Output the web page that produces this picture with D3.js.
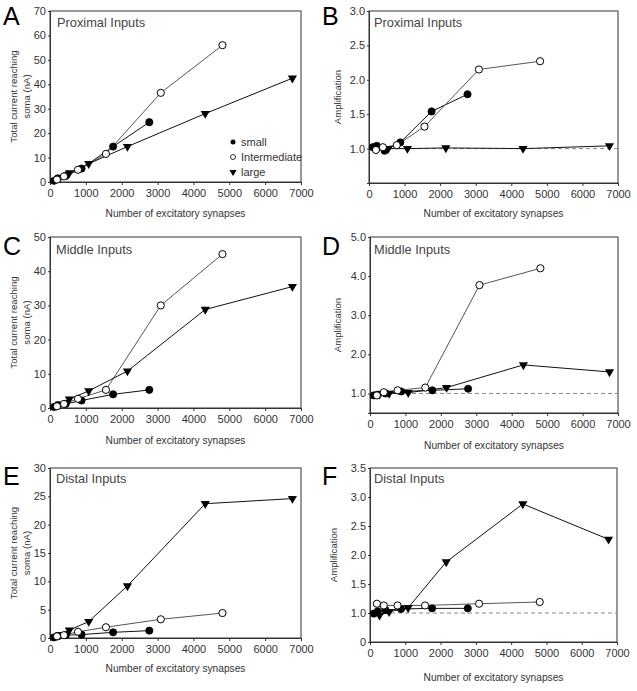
<!DOCTYPE html>
<html><head><meta charset="utf-8">
<script src="https://cdn.jsdelivr.net/npm/d3@7"></script>
<style>
body{margin:0;background:#fff;}
svg{font-family:"Liberation Sans",Arial,sans-serif;}
</style></head>
<body><svg id="c" width="637" height="691"></svg>
<script>
// Synapse counts (x values) for each series
const xSmall = [110, 220, 440, 880, 1760, 2770];
const xInter = [195, 390, 780, 1560, 3090, 4810];
const xLarge = [270, 540, 1080, 2160, 4330, 6760];

// Panel A: proximal, total current (nA)
const aSmall = [0.5, 1.5, 2.5, 5.5, 14.5, 24.5];
const aInter = [1.0, 2.3, 5.0, 11.5, 36.5, 56];
const aLarge = [1.8, 3.7, 7.5, 14.5, 28, 42.5];
// Panel B: proximal, amplification
const bSmall = [1.02, 1.04, 0.97, 1.09, 1.54, 1.79];
const bInter = [0.98, 1.02, 1.05, 1.32, 2.15, 2.27];
const bLarge = [1.02, 1.00, 1.00, 1.01, 1.00, 1.04];
// Panel C: middle, total current
const cSmall = [0.3, 0.8, 1.2, 2.2, 4.0, 5.3];
const cInter = [0.5, 1.2, 2.7, 5.3, 30, 45];
const cLarge = [1.1, 2.6, 5.0, 10.8, 28.8, 35.5];
// Panel D: middle, amplification
const dSmall = [0.95, 0.97, 1.00, 1.05, 1.08, 1.12];
const dInter = [0.95, 1.03, 1.08, 1.15, 3.77, 4.20];
const dLarge = [0.98, 1.00, 1.02, 1.15, 1.73, 1.55];
// Panel E: distal, total current
const eSmall = [0.1, 0.3, 0.5, 0.6, 1.0, 1.3];
const eInter = [0.3, 0.5, 1.1, 1.9, 3.3, 4.4];
const eLarge = [0.6, 1.4, 2.9, 9.2, 23.7, 24.6];
// Panel F: distal, amplification
const fSmall = [0.99, 1.03, 1.05, 1.07, 1.08, 1.08];
const fInter = [1.16, 1.13, 1.13, 1.13, 1.16, 1.19];
const fLarge = [0.96, 1.02, 1.09, 1.88, 2.88, 2.27];

const xTicks = [0, 1000, 2000, 3000, 4000, 5000, 6000, 7000];
const yTicksA = [0, 10, 20, 30, 40, 50, 60, 70];
const yTicksB = [1.0, 1.5, 2.0, 2.5, 3.0];
const yTicksC = [0, 10, 20, 30, 40, 50];
const yTicksD = [1.0, 2.0, 3.0, 4.0, 5.0];
const yTicksE = [0, 5, 10, 15, 20, 25, 30];
const yTicksF = [0.5, 1.0, 1.5, 2.0, 2.5, 3.0, 3.5];
const seriesNames = ["small", "Intermediate", "large"];
const xLabel = "Number of excitatory synapses";
const yLabelCurrent = ["Total current reaching", "soma (nA)"];
const yLabelAmp = ["Amplification"];

const panels = [
  {letter:"A", title:"Proximal Inputs", ys:[aSmall,aInter,aLarge], dom:[0,70], ticks:yTicksA, fmt:d=>d, ylab:yLabelCurrent, amp:false, legend:true,
   x0:50, x1:301, y0:11, y1:182, lx:3, ly:25, tx:57, ty:27, xl:217, ylx:[17,30]},
  {letter:"B", title:"Proximal Inputs", ys:[bSmall,bInter,bLarge], dom:[0.5,3.0], ticks:yTicksB, fmt:d3.format(".1f"), ylab:yLabelAmp, amp:true,
   x0:369, x1:618, y0:11, y1:183, lx:322, ly:25, tx:374, ty:27, xl:217, ylx:[341]},
  {letter:"C", title:"Middle Inputs", ys:[cSmall,cInter,cLarge], dom:[0,50], ticks:yTicksC, fmt:d=>d, ylab:yLabelCurrent, amp:false,
   x0:50, x1:301, y0:237, y1:408, lx:3, ly:255, tx:56, ty:254, xl:444, ylx:[17,30]},
  {letter:"D", title:"Middle Inputs", ys:[dSmall,dInter,dLarge], dom:[0.5,5.0], ticks:yTicksD, fmt:d3.format(".1f"), ylab:yLabelAmp, amp:true,
   x0:370, x1:618, y0:237, y1:413, lx:322, ly:255, tx:374, ty:254, xl:449, ylx:[341]},
  {letter:"E", title:"Distal Inputs", ys:[eSmall,eInter,eLarge], dom:[0,30], ticks:yTicksE, fmt:d=>d, ylab:yLabelCurrent, amp:false,
   x0:50, x1:301, y0:468, y1:638, lx:3, ly:485, tx:56, ty:483, xl:672, ylx:[17,30]},
  {letter:"F", title:"Distal Inputs", ys:[fSmall,fInter,fLarge], dom:[0.5,3.5], ticks:yTicksF, fmt:d=>d===0.5?"0":d3.format(".1f")(d), ylab:yLabelAmp, amp:true,
   x0:370, x1:617, y0:468, y1:642, lx:322, ly:485, tx:374, ty:483, xl:681, ylx:[337]}
];
const xsets = [xSmall, xInter, xLarge];
const lineCols = ["#111", "#555", "#111"];

const svg = d3.select("#c");
const tri = d3.symbol().type(d3.symbolTriangle).size(36);

function marker(g, type, x, y) {
  if (type === 0) g.append("circle").attr("cx",x).attr("cy",y).attr("r",3.6).attr("fill","#000").attr("stroke","#000").attr("stroke-width",0.8);
  else if (type === 1) g.append("circle").attr("cx",x).attr("cy",y).attr("r",3.6).attr("fill","#fff").attr("stroke","#000").attr("stroke-width",1);
  else g.append("path").attr("d",tri).attr("transform",`translate(${x},${y}) rotate(180)`).attr("fill","#000");
}

panels.forEach(p => {
  const g = svg.append("g");
  const x = d3.scaleLinear().domain([0,7000]).range([p.x0,p.x1]);
  const y = d3.scaleLinear().domain(p.dom).range([p.y1,p.y0]);

  // frame
  g.append("rect").attr("x",p.x0).attr("y",p.y0).attr("width",p.x1-p.x0).attr("height",p.y1-p.y0)
    .attr("fill","none").attr("stroke","#333").attr("stroke-width",1);

  const xa = g.append("g").attr("transform",`translate(0,${p.y1})`)
    .call(d3.axisBottom(x).tickValues(xTicks).tickSize(3).tickPadding(4).tickFormat(d=>d));
  const ya = g.append("g").attr("transform",`translate(${p.x0},0)`)
    .call(d3.axisLeft(y).tickValues(p.ticks).tickSize(2).tickPadding(2).tickFormat(p.fmt));
  [xa,ya].forEach(a=>{
    a.select(".domain").attr("stroke","#333");
    a.selectAll(".tick line").attr("stroke","#333");
    a.selectAll("text").attr("font-size",11).attr("fill","#333").attr("font-family","'Liberation Sans',Arial,sans-serif");
  });

  if (p.amp) {
    g.append("line").attr("x1",p.x0).attr("x2",p.x1).attr("y1",y(1)).attr("y2",y(1))
      .attr("stroke","#888").attr("stroke-dasharray","4,3").attr("stroke-width",1);
  }

  // lines
  const line = d3.line().x(d=>x(d[0])).y(d=>y(d[1]));
  p.ys.forEach((ys,i)=>{
    const pts = xsets[i].map((xv,j)=>[xv, ys[j]]);
    g.append("path").attr("d",line(pts)).attr("fill","none").attr("stroke",lineCols[i]).attr("stroke-width",1);
  });
  // markers
  [2,0,1].forEach(i=>{
    xsets[i].forEach((xv,j)=>marker(g,i,x(xv),y(p.ys[i][j])));
  });

  // texts
  g.append("text").attr("x",p.lx).attr("y",p.ly).attr("font-size",25).attr("fill","#000").text(p.letter);
  g.append("text").attr("x",p.tx).attr("y",p.ty).attr("font-size",12.8).attr("fill","#444").text(p.title);
  g.append("text").attr("x",(p.x0+p.x1)/2).attr("y",p.xl).attr("text-anchor","middle").attr("font-size",10.2).attr("fill","#333").text(xLabel);
  const cy = (p.y0+p.y1)/2;
  p.ylab.forEach((t,k)=>{
    g.append("text").attr("transform",`translate(${p.ylx[k]},${cy}) rotate(-90)`).attr("text-anchor","middle")
      .attr("font-size",9.6).attr("fill","#333").text(t);
  });

  if (p.legend) {
    const rows = [142,157,172];
    seriesNames.forEach((n,i)=>{
      const lg = g.append("g");
      if (i===0) lg.append("circle").attr("cx",233).attr("cy",rows[i]).attr("r",2.5).attr("fill","#000");
      else if (i===1) lg.append("circle").attr("cx",233).attr("cy",rows[i]).attr("r",2.5).attr("fill","#fff").attr("stroke","#000").attr("stroke-width",0.8);
      else lg.append("path").attr("d",d3.symbol().type(d3.symbolTriangle).size(22)).attr("transform",`translate(233,${rows[i]}) rotate(180)`).attr("fill","#000");
      lg.append("text").attr("x",241).attr("y",rows[i]+4).attr("font-size",11).attr("fill","#333").text(n);
    });
  }
});
</script></body></html>
